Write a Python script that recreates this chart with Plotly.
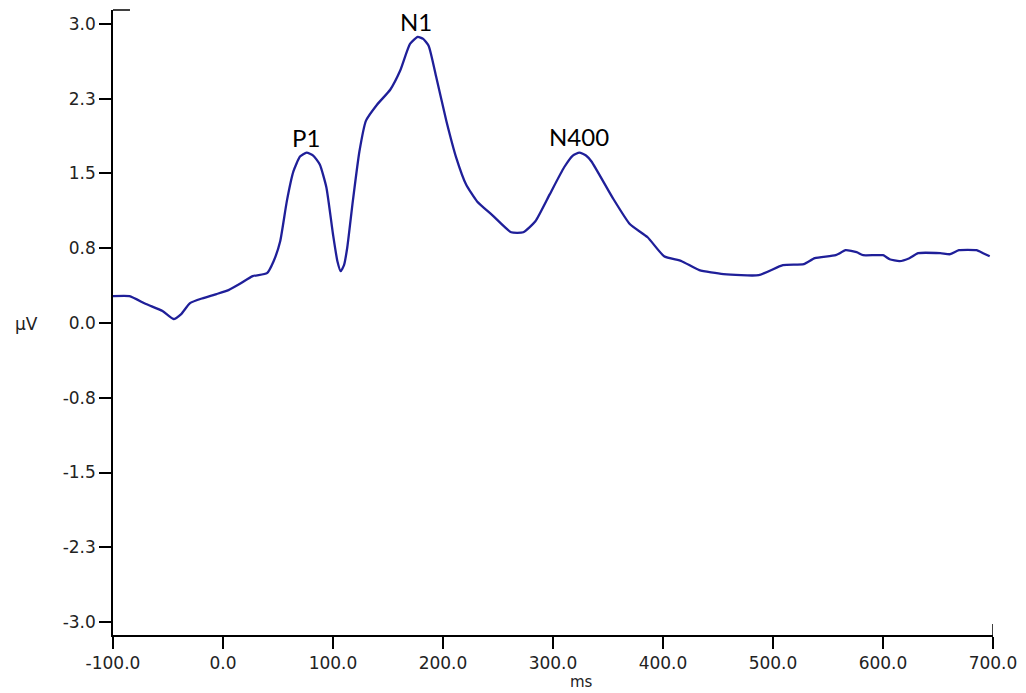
import plotly.graph_objects as go

# ERP waveform (time in ms, amplitude in µV)
time_ms = [-100, -85, -70, -55, -45, -38, -30, -18, -6, 5, 15, 27, 40, 46, 52, 58, 64, 70, 76,
           82, 88, 94, 100, 104, 107, 110, 113, 118, 124, 130, 140, 152, 161, 170, 177, 182,
           187, 194, 203, 212, 221, 231, 245, 262, 273, 284, 297, 310, 318, 324, 330, 335,
           354, 370, 386, 401, 417, 433, 455, 487, 509, 528, 538, 557, 566, 576, 582, 600,
           606, 615, 624, 632, 652, 661, 669, 685, 691, 697]
amp_uv = [0.27, 0.27, 0.19, 0.12, 0.04, 0.09, 0.20, 0.25, 0.29, 0.33, 0.39, 0.47, 0.50, 0.62,
          0.82, 1.22, 1.52, 1.67, 1.71, 1.68, 1.59, 1.36, 0.89, 0.62, 0.52, 0.58, 0.76, 1.22,
          1.72, 2.03, 2.19, 2.34, 2.53, 2.80, 2.87, 2.85, 2.78, 2.46, 2.03, 1.66, 1.39, 1.22,
          1.08, 0.91, 0.91, 1.02, 1.29, 1.56, 1.68, 1.71, 1.68, 1.62, 1.26, 0.99, 0.86, 0.67,
          0.62, 0.53, 0.49, 0.48, 0.58, 0.59, 0.65, 0.68, 0.73, 0.71, 0.68, 0.68, 0.64, 0.62,
          0.65, 0.70, 0.70, 0.69, 0.73, 0.73, 0.70, 0.67]

# Component labels: (text, x in ms, y in µV)
comp_labels = ["P1", "N1", "N400"]
comp_x = [75, 175.5, 323.5]
comp_y = [1.86, 3.02, 1.87]

x_tickvals = [-100, 0, 100, 200, 300, 400, 500, 600, 700]
x_ticktext = ["-100.0", "0.0", "100.0", "200.0", "300.0", "400.0", "500.0", "600.0", "700.0"]
y_tickvals = [-3.0, -2.25, -1.5, -0.75, 0.0, 0.75, 1.5, 2.25, 3.0]
y_ticktext = ["-3.0", "-2.3", "-1.5", "-0.8", "0.0", "0.8", "1.5", "2.3", "3.0"]

tick_font = dict(family="DejaVu Sans", size=17, color="#222222")

fig = go.Figure()
fig.add_trace(go.Scatter(x=time_ms, y=amp_uv, mode="lines",
                         line=dict(color="#1f1f99", width=2.3, shape="spline", smoothing=0.5),
                         showlegend=False, hoverinfo="skip"))

for t, xv, yv in zip(comp_labels, comp_x, comp_y):
    fig.add_annotation(x=xv, y=yv, xref="x", yref="y", text=t, showarrow=False,
                       xanchor="center", yanchor="middle",
                       font=dict(family="Lato", size=24, color="#000000"))

# axis titles placed like the reference
fig.add_annotation(x=-0.098, y=0.497, xref="paper", yref="paper", text="µV", showarrow=False,
                   xanchor="center", yanchor="middle", font=tick_font)
fig.add_annotation(x=0.532, y=-0.0925, xref="paper", yref="paper", text="ms", showarrow=False,
                   xanchor="center", yanchor="bottom",
                   font=dict(family="DejaVu Sans", size=15, color="#222222"))

# top bracket of the y axis and the raised end tick of the x axis
fig.add_shape(type="line", xref="paper", yref="paper", x0=0, x1=0.0193, y0=1, y1=1,
              line=dict(color="black", width=1.5))
fig.add_shape(type="line", xref="x", yref="paper", x0=700, x1=700, y0=0, y1=0.0176,
              line=dict(color="black", width=1.5))

fig.update_layout(
    width=1026, height=693,
    margin=dict(l=113, r=33, t=10, b=58),
    paper_bgcolor="white", plot_bgcolor="white",
    xaxis=dict(range=[-100, 700], tickmode="array", tickvals=x_tickvals, ticktext=x_ticktext,
               showgrid=False, zeroline=False, showline=True, linecolor="black", linewidth=1.5,
               ticks="outside", ticklen=12, tickwidth=1.5, tickcolor="black", tickfont=tick_font),
    yaxis=dict(range=[-3.13, 3.14], tickmode="array", tickvals=y_tickvals, ticktext=y_ticktext,
               showgrid=False, zeroline=False, showline=True, linecolor="black", linewidth=1.5,
               ticks="outside", ticklen=12, tickwidth=1.5, tickcolor="black", tickfont=tick_font),
)

fig.write_html("out.html", config={"displayModeBar": False},
               post_script="document.body.style.margin='0';document.body.style.overflow='hidden';")
